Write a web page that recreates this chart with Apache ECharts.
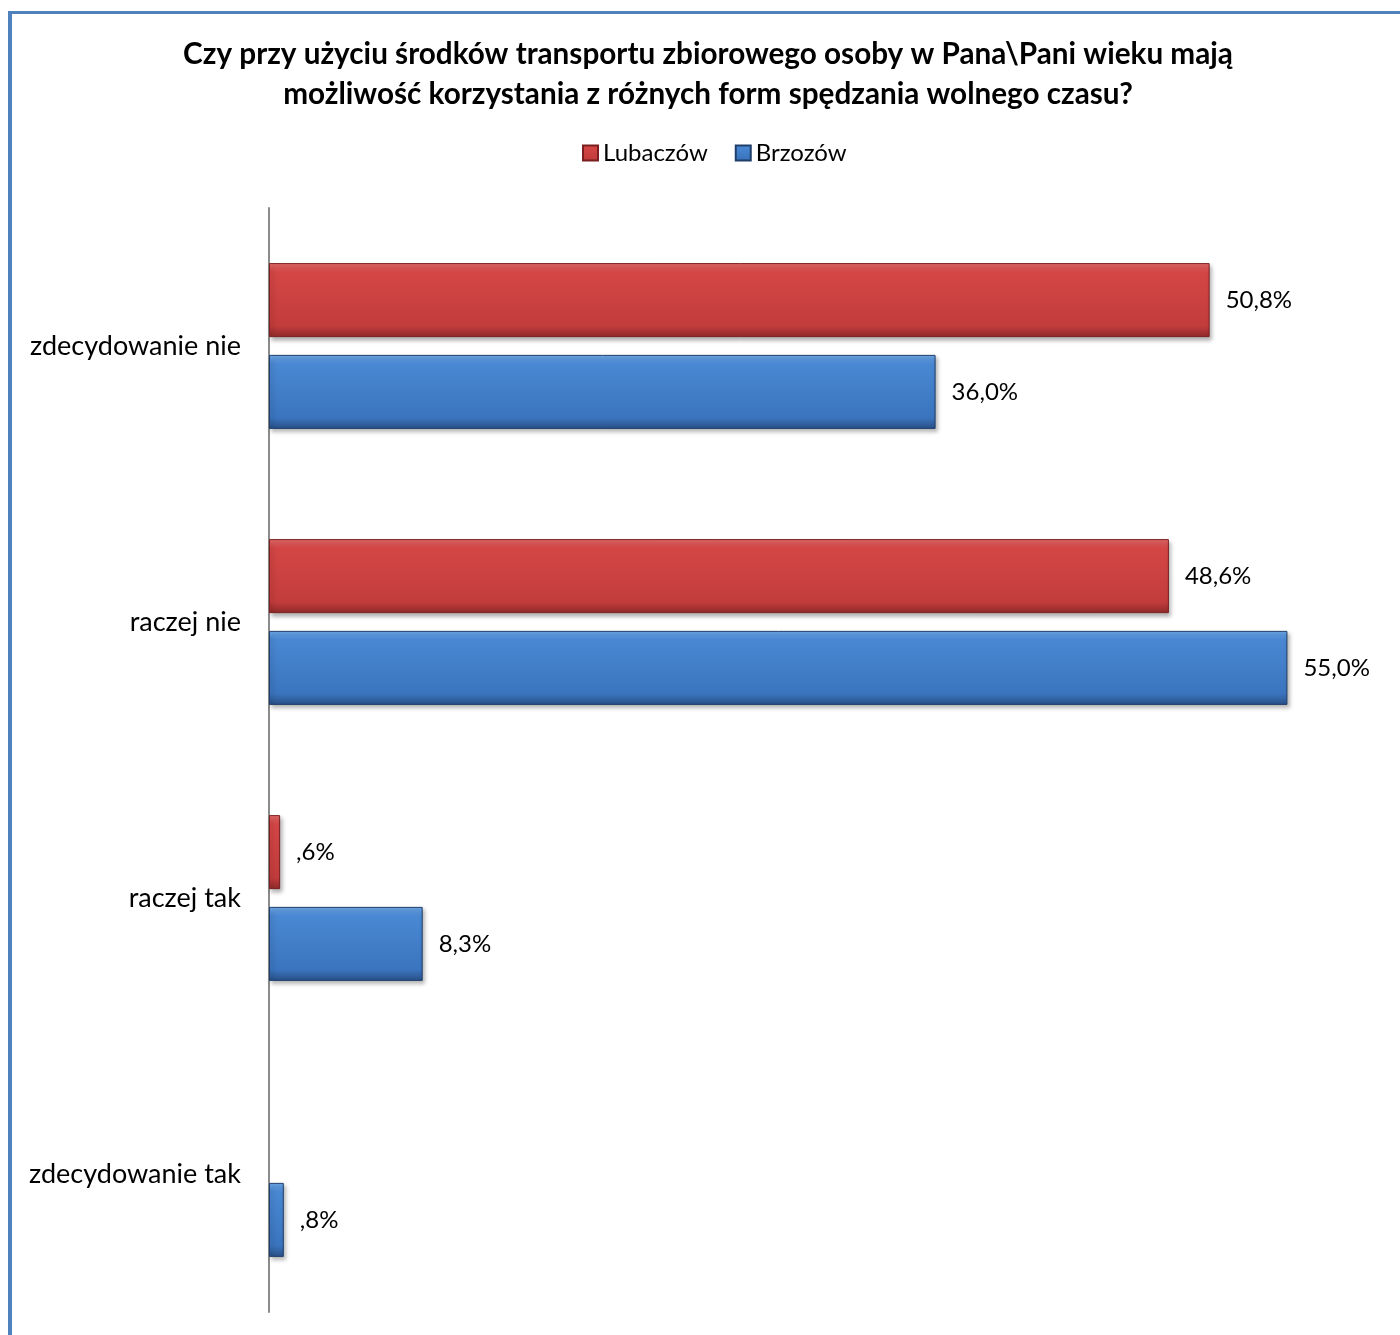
<!DOCTYPE html>
<html>
<head>
<meta charset="utf-8">
<script src="https://cdn.jsdelivr.net/npm/echarts@6/dist/echarts.min.js"></script>
<style>
  html, body { margin: 0; padding: 0; background: #fff; }
  #chart { width: 1400px; height: 1335px; }
</style>
</head>
<body>
<div id="chart"></div>
<script>
// data
const categories = ['zdecydowanie nie', 'raczej nie', 'raczej tak', 'zdecydowanie tak']
const lubaczow = [50.8, 48.6, 0.6, null]
const brzozow = [36.0, 55.0, 8.3, 0.8]
const seriesNames = ['Lubaczów', 'Brzozów']

const FONT = 'Lato'

// 50.8 -> "50,8%", 0.6 -> ",6%"
function fmt(v) {
  let s = v.toFixed(1).replace('.', ',')
  if (s.indexOf('0,') === 0) s = s.slice(1)
  return s + '%'
}

function grad(c0, c1, c2, c3) {
  return new echarts.graphic.LinearGradient(0, 0, 0, 1, [
    { offset: 0, color: c0 },
    { offset: 0.12, color: c1 },
    { offset: 0.85, color: c2 },
    { offset: 1, color: c3 }
  ])
}

const redFill = grad('#e66a6a', '#d44646', '#c33c3c', '#8e2a2a')
const blueFill = grad('#6ea9ea', '#4a88d3', '#3a74be', '#284f86')

function barSeries(name, data, fill, border) {
  return {
    name: name,
    type: 'bar',
    data: data,
    barWidth: 74,
    barGap: '24%',
    itemStyle: {
      color: fill,
      borderColor: border,
      borderWidth: 1,
      shadowColor: 'rgba(0,0,0,0.3)',
      shadowBlur: 4,
      shadowOffsetX: 2,
      shadowOffsetY: 3
    },
    label: {
      show: true,
      position: 'right',
      distance: 16,
      fontFamily: FONT,
      fontSize: 24,
      color: '#000',
      formatter: p => (p.value == null ? '' : fmt(p.value))
    }
  }
}

const chart = echarts.init(document.getElementById('chart'))
chart.setOption({
  animation: false,
  backgroundColor: '#fff',
  title: {
    text: 'Czy przy użyciu środków transportu zbiorowego osoby w Pana\\Pani wieku mają\nmożliwość korzystania z różnych form spędzania wolnego czasu?',
    left: 703,
    top: 29,
    textAlign: 'center',
    textStyle: {
      fontFamily: FONT,
      fontWeight: 'bold',
      fontSize: 29.7,
      lineHeight: 40,
      color: '#000'
    }
  },
  legend: {
    data: seriesNames,
    top: 136,
    left: 577,
    icon: 'rect',
    itemWidth: 15,
    itemHeight: 15,
    itemGap: 27,
    textStyle: { fontFamily: FONT, fontSize: 24, color: '#000' }
  },
  grid: { left: 269, right: 20, top: 208, bottom: 23, containLabel: false },
  xAxis: {
    type: 'value',
    min: 0,
    max: 60,
    show: false
  },
  yAxis: {
    type: 'category',
    data: categories,
    inverse: true,
    axisLine: { show: true, lineStyle: { color: '#8c8c8c', width: 2 } },
    axisTick: { show: false },
    axisLabel: { margin: 28, fontFamily: FONT, fontSize: 27, color: '#000' }
  },
  series: [
    barSeries(seriesNames[0], lubaczow, redFill, '#7a1f1f'),
    barSeries(seriesNames[1], brzozow, blueFill, '#1f3f6a')
  ],
  graphic: [
    { type: 'line', shape: { x1: 10, y1: 12.5, x2: 1400, y2: 12.5 }, style: { stroke: '#4f81bd', lineWidth: 3 } },
    { type: 'line', shape: { x1: 10, y1: 11, x2: 10, y2: 1335 }, style: { stroke: '#4f81bd', lineWidth: 4 } }
  ]
})
</script>
</body>
</html>
